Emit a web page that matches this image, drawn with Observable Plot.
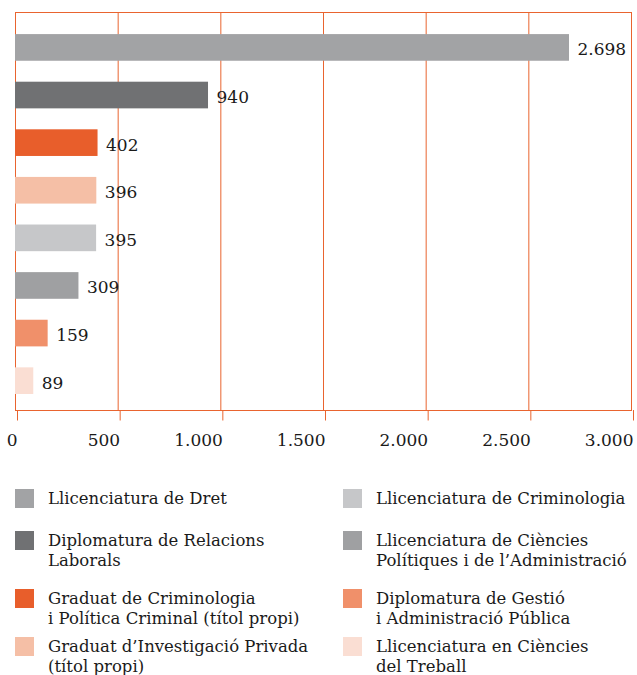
<!DOCTYPE html>
<html>
<head>
<meta charset="utf-8">
<script src="https://cdn.jsdelivr.net/npm/d3@7"></script>
<script src="https://cdn.jsdelivr.net/npm/@observablehq/plot@0.6"></script>
<style>
  html, body { margin: 0; padding: 0; background: #fff; }
  body { width: 637px; height: 675px; overflow: hidden; font-family: "DejaVu Serif", serif; color: #1a1a1a; }
  #chart svg { display: block; }
  #legend {
    display: grid;
    grid-auto-flow: column;
    grid-template-columns: 328px 294px;
    grid-template-rows: 42px 58px 48px 40px;
    margin-left: 15px;
    margin-top: 29px;
    font-size: 16.5px;
    line-height: 19.5px;
  }
  .item { display: flex; align-items: flex-start; }
  .sw { width: 19px; height: 19px; flex: none; }
  .lab { margin-left: 14px; white-space: nowrap; }
</style>
</head>
<body>
<div id="chart"></div>
<div id="legend"></div>
<script>
const categories = [
  "Llicenciatura de Dret",
  "Diplomatura de Relacions Laborals",
  "Graduat de Criminologia i Política Criminal (títol propi)",
  "Graduat d’Investigació Privada (títol propi)",
  "Llicenciatura de Criminologia",
  "Llicenciatura de Ciències Polítiques i de l’Administració",
  "Diplomatura de Gestió i Administració Pública",
  "Llicenciatura en Ciències del Treball"
];
const values = [2698, 940, 402, 396, 395, 309, 159, 89];
const colors = ["#A2A3A5", "#707173", "#E85E2B", "#F5BFA6", "#C6C7C9", "#9FA0A2", "#F0906A", "#FADED3"];
const legendLines = [
  ["Llicenciatura de Dret"],
  ["Diplomatura de Relacions", "Laborals"],
  ["Graduat de Criminologia", "i Política Criminal (títol propi)"],
  ["Graduat d’Investigació Privada", "(títol propi)"],
  ["Llicenciatura de Criminologia"],
  ["Llicenciatura de Ciències", "Polítiques i de l’Administració"],
  ["Diplomatura de Gestió", "i Administració Pública"],
  ["Llicenciatura en Ciències", "del Treball"]
];
const xTicks = [0, 500, 1000, 1500, 2000, 2500, 3000];

const orange = "#E9642F";
const loc = d3.formatLocale({decimal: ",", thousands: ".", grouping: [3], currency: ["", "€"]});
const fmt = loc.format(",");

const data = categories.map((c, i) => ({cat: c, value: values[i], color: colors[i]}));

const chart = Plot.plot({
  width: 637,
  height: 460,
  marginTop: 12,
  marginLeft: 15,
  marginRight: 6,
  marginBottom: 50,
  style: {fontFamily: "DejaVu Serif", fontSize: "17px", color: "#1a1a1a", background: "#fff", overflow: "visible"},
  x: {domain: [0, 3000], axis: null, label: null},
  y: {domain: categories, axis: null, paddingInner: 0.44, paddingOuter: 0.4, align: 0.58, round: false},
  marks: [
    Plot.frame({stroke: orange, strokeWidth: 1}),
    Plot.ruleX(xTicks, {stroke: orange, strokeWidth: 1}),
    Plot.barX(data, {x: "value", y: "cat", fill: "color"}),
    Plot.text(data, {x: "value", y: "cat", text: d => fmt(d.value), textAnchor: "start", dx: 8, dy: 2, fill: "#1a1a1a", fontSize: 17}),
    Plot.axisX({ticks: xTicks, tickFormat: d => fmt(d), label: null, tickSize: 10.5, tickPadding: 13, stroke: orange, color: "#1a1a1a", fill: "#1a1a1a", textAnchor: "end", dx: 2, fontSize: 17})
  ]
});
document.getElementById("chart").appendChild(chart);

const legend = document.getElementById("legend");
legendLines.forEach((lines, i) => {
  const item = document.createElement("div");
  item.className = "item";
  const sw = document.createElement("div");
  sw.className = "sw";
  sw.style.background = colors[i];
  const lab = document.createElement("div");
  lab.className = "lab";
  lines.forEach((t, j) => {
    if (j) lab.appendChild(document.createElement("br"));
    lab.appendChild(document.createTextNode(t));
  });
  item.appendChild(sw);
  item.appendChild(lab);
  legend.appendChild(item);
});
</script>
</body>
</html>
